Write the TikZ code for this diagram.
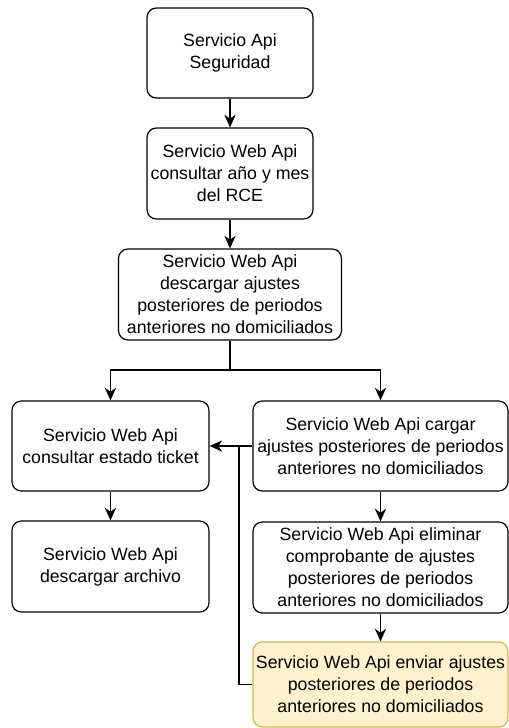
\documentclass[tikz,border=0pt]{standalone}
\usepackage{fontspec}
\setmainfont{Liberation Sans}
\usetikzlibrary{arrows.meta}

\definecolor{amarillo}{HTML}{FFF2CC}
\definecolor{bordeamarillo}{HTML}{D6B656}

\begin{document}
\begin{tikzpicture}[x=0.75pt,y=-0.75pt,
  caja/.style={draw,line width=0.9pt,rounded corners=7pt,align=center,inner sep=0pt,
    font=\fontsize{13.3}{16.5}\selectfont},
  flecha/.style={line width=0.9pt,-{Stealth[length=9.5pt,width=8.5pt,inset=3pt]}}]

\useasboundingbox (0,0) rectangle (509,728);

% columna central
\node[caja,minimum width=124.5pt,minimum height=67.5pt] (seg) at (230,53) {Servicio Api\\Seguridad};
\node[caja,minimum width=124.5pt,minimum height=68.25pt] (rce) at (230,173.5) {Servicio Web Api\\consultar año y mes\\del RCE};
\node[caja,minimum width=167.25pt,minimum height=68.25pt] (desc) at (230,294.5) {Servicio Web Api\\descargar ajustes\\posteriores de periodos\\anteriores no domiciliados};

% rama izquierda
\node[caja,minimum width=147.75pt,minimum height=67.5pt] (ticket) at (110.5,446) {Servicio Web Api\\consultar estado ticket};
\node[caja,minimum width=147.75pt,minimum height=68.25pt] (archivo) at (110.5,566.5) {Servicio Web Api\\descargar archivo};

% rama derecha
\node[caja,minimum width=191.25pt,minimum height=67.5pt] (cargar) at (380.5,446) {Servicio Web Api cargar\\ajustes posteriores de periodos\\anteriores no domiciliados};
\node[caja,minimum width=191.25pt,minimum height=68.25pt] (elim) at (380.5,567.5) {Servicio Web Api eliminar\\comprobante de ajustes\\posteriores de periodos\\anteriores no domiciliados};
\node[caja,fill=amarillo,draw=bordeamarillo,minimum width=191.25pt,minimum height=63.75pt] (enviar) at (380.5,684.5) {Servicio Web Api enviar ajustes\\posteriores de periodos\\anteriores no domiciliados};

\coordinate (bifur) at (230,370);
\coordinate (union) at (239,446);

\draw[flecha] (seg) -- (rce);
\draw[flecha] (rce) -- (desc);
\draw[line width=0.9pt] (desc.south) -- (bifur);
\draw[flecha] (bifur) -| (ticket.north);
\draw[flecha] (bifur) -| (cargar.north);
\draw[flecha] (cargar.west) -- (ticket.east);
\draw[line width=0.9pt] (enviar.west) -| (union);
\draw[flecha] (ticket) -- (archivo);
\draw[flecha] (cargar) -- (elim);
\draw[flecha] (elim) -- (enviar);

\end{tikzpicture}
\end{document}
